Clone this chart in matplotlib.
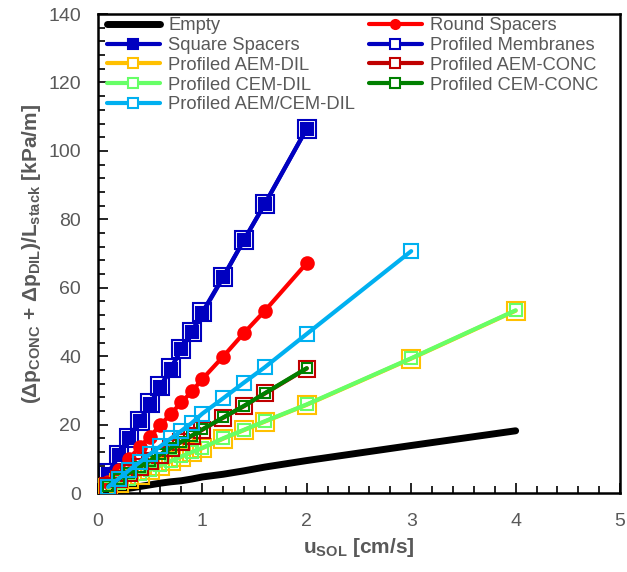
"""
Queda de pressão por comprimento da pilha em função da velocidade do fluido,
para os diferentes espaçadores e membranas perfiladas.
"""

import matplotlib
matplotlib.use("Agg")
import matplotlib.pyplot as plt
from matplotlib.lines import Line2D
from matplotlib.ticker import MultipleLocator

# Velocidades medidas [cm/s]
u_base = [0.1, 0.2, 0.3, 0.4, 0.5, 0.6, 0.7, 0.8, 0.9, 1.0, 1.2, 1.4, 1.6, 2.0]
u_ate_3 = u_base + [3.0]
u_ate_4 = u_base + [3.0, 4.0]

# Queda de pressão [kPa/m]
dp_vazio = [0.4, 0.9, 1.4, 1.9, 2.4, 2.9, 3.3, 3.6, 4.1, 4.7, 5.5, 6.5, 7.6, 9.5, 13.9, 18.2]
dp_redondo = [3.3, 6.7, 10.0, 13.5, 16.5, 19.9, 23.2, 26.5, 29.7, 33.3, 39.9, 46.8, 53.3, 67.2]
dp_quadrado = [5.5, 11.0, 16.0, 21.0, 26.0, 31.0, 36.4, 42.0, 47.0, 52.5, 63.0, 74.0, 84.6, 106.5]
dp_perfilado = [5.8, 11.2, 16.2, 21.2, 26.2, 31.2, 36.6, 42.0, 47.2, 52.8, 63.2, 74.0, 84.5, 106.5]
dp_aem_dil = [1.4, 2.8, 4.1, 5.4, 6.7, 8.0, 9.3, 10.6, 11.9, 13.1, 15.9, 18.4, 20.9, 25.8, 39.3, 53.3]
dp_cem_dil = [1.5, 2.9, 4.2, 5.5, 6.8, 8.1, 9.4, 10.7, 12.0, 13.2, 16.0, 18.5, 21.0, 25.9, 39.4, 53.4]
dp_aem_conc = [2.1, 4.0, 5.8, 7.6, 9.4, 11.2, 13.1, 14.9, 16.7, 18.5, 22.0, 25.4, 29.1, 36.4]
dp_cem_conc = [2.2, 4.1, 5.9, 7.7, 9.5, 11.3, 13.2, 15.0, 16.8, 18.6, 22.1, 25.5, 29.2, 36.5]
dp_aem_cem_dil = [1.8, 4.2, 6.7, 9.0, 11.4, 13.7, 16.0, 18.2, 20.5, 23.2, 27.7, 32.3, 36.8, 46.5, 70.7]

CINZA = "#595959"

plt.rcParams["font.family"] = ["Liberation Sans", "DejaVu Sans"]
plt.rcParams["mathtext.fontset"] = "custom"
plt.rcParams["mathtext.rm"] = "Liberation Sans:bold"
plt.rcParams["mathtext.it"] = "Liberation Sans:bold"
plt.rcParams["mathtext.bf"] = "Liberation Sans:bold"

fig = plt.figure(figsize=(6.27, 5.72), dpi=100)
ax = fig.add_axes([0.156, 0.138, 0.833, 0.8375])

# (rótulo, x, y, cor, marcador, tamanho, preenchido, largura da linha, ordem)
series = [
    ("Empty", u_ate_4, dp_vazio, "black", None, 0, False, 5.0, 1),
    ("Square Spacers", u_base, dp_quadrado, "#0000C0", "s", 8.5, True, 3.0, 3),
    ("Profiled Membranes", u_base, dp_perfilado, "#0000C0", "s", 13, False, 3.0, 2),
    ("Round Spacers", u_base, dp_redondo, "#FF0000", "o", 9, True, 3.0, 4),
    ("Profiled AEM-DIL", u_ate_4, dp_aem_dil, "#FFC000", "s", 12.5, False, 3.0, 5),
    ("Profiled CEM-DIL", u_ate_4, dp_cem_dil, "#66FF66", "s", 8, False, 3.0, 6),
    ("Profiled AEM-CONC", u_base, dp_aem_conc, "#C00000", "s", 12, False, 3.0, 7),
    ("Profiled CEM-CONC", u_base, dp_cem_conc, "#008000", "s", 7.5, False, 3.0, 8),
    ("Profiled AEM/CEM-DIL", u_ate_3, dp_aem_cem_dil, "#00B0F0", "s", 9.5, False, 3.0, 9),
]

handles = {}
for rotulo, x, y, cor, marc, tam, cheio, lw, z in series:
    ax.plot(x, y, color=cor, lw=lw, marker=marc, ms=tam,
            mfc=cor if cheio else "none", mec=cor, mew=1.5,
            solid_capstyle="round", zorder=z)
    # Entrada da legenda com marcador pequeno
    handles[rotulo] = Line2D([], [], color=cor, lw=lw, marker=marc,
                             ms=6.5 if marc else 0, mfc=cor if cheio else "white",
                             mec=cor, mew=1.5, solid_capstyle="round")

# Legenda em duas colunas, preenchida por linhas
ordem = ["Empty", "Square Spacers", "Profiled AEM-DIL", "Profiled CEM-DIL",
         "Profiled AEM/CEM-DIL", "Round Spacers", "Profiled Membranes",
         "Profiled AEM-CONC", "Profiled CEM-CONC"]
leg = ax.legend([handles[k] for k in ordem], ordem, ncol=2, frameon=False,
                loc="upper left", bbox_to_anchor=(-0.004, 1.016),
                fontsize=13.2, handlelength=2.9, handletextpad=0.45,
                labelspacing=0.15, columnspacing=0.75, borderaxespad=0.2)
for t in leg.get_texts():
    t.set_color(CINZA)

ax.set_xlim(0, 5)
ax.set_ylim(0, 140)
ax.xaxis.set_major_locator(MultipleLocator(1))
ax.xaxis.set_minor_locator(MultipleLocator(0.2))
ax.yaxis.set_major_locator(MultipleLocator(20))
ax.yaxis.set_minor_locator(MultipleLocator(4))
ax.tick_params(which="both", direction="in", top=False, right=False,
               colors="black", labelcolor=CINZA, labelsize=14, width=1.2)
ax.tick_params(which="major", length=7)
ax.tick_params(which="minor", length=5)
ax.tick_params(axis="x", pad=14)
ax.tick_params(axis="y", pad=12)

for lado in ax.spines.values():
    lado.set_linewidth(1.8)

ax.set_xlabel(r"u$_{\mathregular{SOL}}$ [cm/s]", fontsize=15, fontweight="bold",
              color=CINZA, labelpad=5)
ax.set_ylabel(r"($\Delta$p$_{\mathregular{CONC}}$ + $\Delta$p$_{\mathregular{DIL}}$)/L$_{\mathregular{stack}}$ [kPa/m]",
              fontsize=15, fontweight="bold", color=CINZA, labelpad=4)

fig.savefig("out.png", dpi=100)
